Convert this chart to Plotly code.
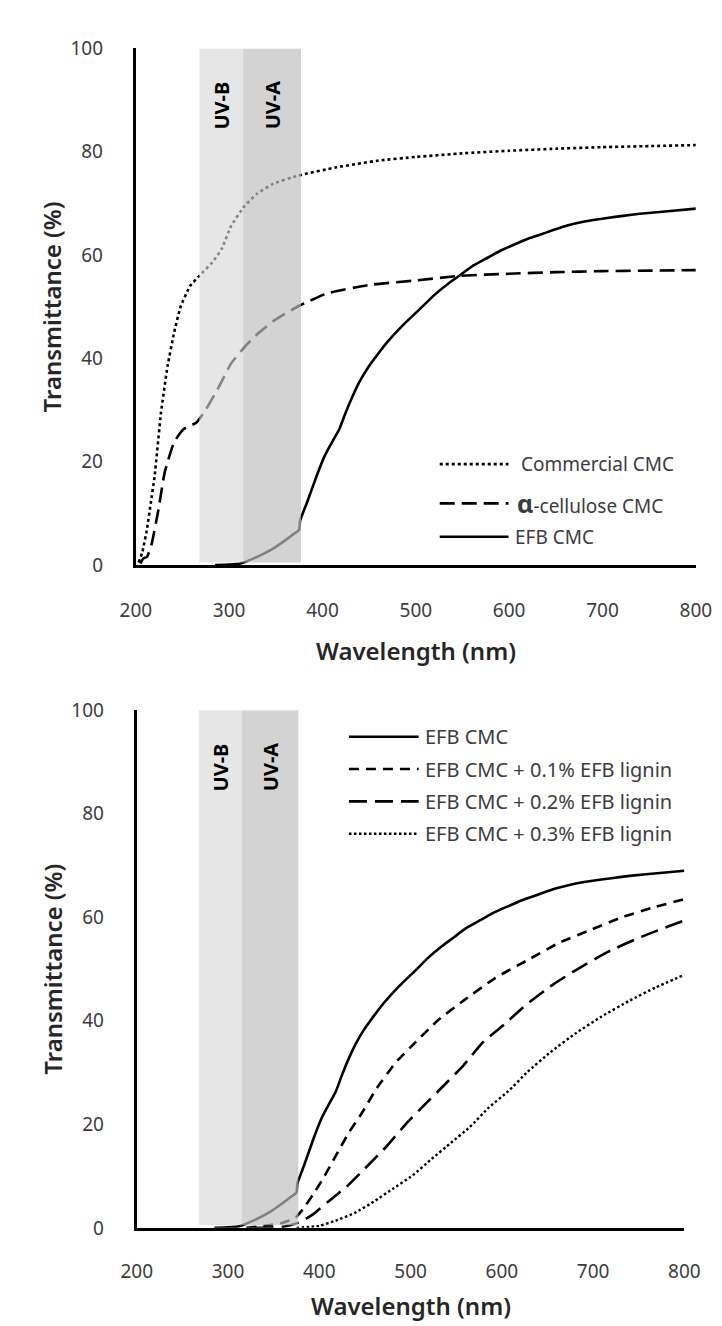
import plotly.graph_objects as go

# ---------------- data ----------------
# Top panel
wl_commercial = [203, 207, 212, 216, 220, 227, 234, 241, 248, 258, 268, 282, 292, 302, 316, 330, 347,
                 374, 415, 460, 500, 550, 600, 650, 700, 750, 800]
t_commercial = [0.5, 2.5, 7, 12, 17, 29.5, 38.5, 45, 50, 54, 56, 58.6, 61.2, 65.6, 69.4, 71.9, 73.8,
                75.4, 77, 78.3, 79, 79.7, 80.2, 80.6, 80.9, 81.1, 81.3]

wl_alpha = [205, 208, 212, 217, 224, 231, 241, 251, 265, 275, 289, 302, 316, 330, 347, 374, 405,
            449, 500, 548, 600, 650, 700, 750, 800]
t_alpha = [0.3, 1.3, 1.6, 4.1, 10.5, 18, 23.8, 26.3, 27.6, 30.1, 34.5, 39, 42.1, 44.7, 47.2, 50.1, 52.6,
           54.2, 55.1, 56.0, 56.4, 56.7, 56.9, 57.0, 57.1]

wl_efb = [285, 300, 312, 330, 347, 360, 369, 375, 376, 384, 394, 402, 408, 418, 425, 432, 440, 449, 460,
          470, 487, 504, 520, 535, 548, 560, 575, 590, 605, 622, 640, 656, 673, 690, 705, 722, 740, 770, 800]
t_efb = [0, 0.1, 0.3, 1.6, 3.2, 4.8, 6.0, 6.8, 8.6, 12.4, 17.4, 21.0, 23.1, 26.3, 29.6, 32.6, 35.6, 38.3,
         41.0, 43.3, 46.6, 49.5, 52.3, 54.5, 56.2, 57.8, 59.3, 60.8, 62.0, 63.3, 64.4, 65.4, 66.2, 66.8,
         67.2, 67.6, 68.0, 68.5, 69.0]

# Bottom panel
wl_l01 = [320, 340, 360, 374, 382, 393, 404, 418, 432, 446, 463, 484, 505, 530, 558, 593, 628, 663,
          698, 733, 768, 800]
t_l01 = [0, 0.4, 1.0, 2.0, 3.6, 6.4, 9.5, 13.9, 18.3, 22, 27, 32, 35.8, 40.1, 43.9, 48.3, 51.7, 55.1,
         57.6, 60.1, 62, 63.5]

wl_l02 = [330, 360, 379, 393, 410, 432, 453, 474, 495, 516, 537, 558, 579, 600, 628, 656, 684, 716,
          751, 800]
t_l02 = [0, 0.2, 1.1, 2.6, 5.1, 8.3, 12, 15.8, 20.1, 23.9, 27.6, 31.4, 35.8, 38.9, 43.3, 47, 50.1, 53.3,
         56.1, 59.4]

wl_l03 = [375, 400, 418, 439, 460, 481, 502, 523, 544, 565, 586, 607, 628, 653, 681, 709, 740, 768, 800]
t_l03 = [0, 0.4, 1.4, 2.9, 5.1, 7.6, 10.1, 13.3, 16.4, 19.5, 23.3, 26.4, 30.1, 33.9, 37.6, 40.8, 43.9,
         46.4, 48.9]

x_ticks = [200, 300, 400, 500, 600, 700, 800]
y_ticks = [0, 20, 40, 60, 80, 100]

uv_bands = [("UV-B", 268, 315), ("UV-A", 315, 377)]

top_names = ["Commercial CMC", "<b style='font-size:25px'>α</b>-cellulose CMC", "EFB CMC"]
bottom_names = ["EFB CMC", "EFB CMC + 0.1% EFB lignin", "EFB CMC + 0.2% EFB lignin",
                "EFB CMC + 0.3% EFB lignin"]

# ---------------- figure ----------------
W, H = 722, 1326
FONT = "Noto Sans"

# plot-area pixel boxes (left, right, top, bottom)
TOP = (117, 703, 28, 555)
BOT = (118, 691, 703, 1231)


def fx(p):
    return p / W


def fy(p):
    return 1 - p / H


fig = go.Figure()

top_styles = [dict(dash="3px,3px", width=2.6), dict(dash="15px,7px", width=2.6), dict(dash="solid", width=2.6)]
bot_styles = [dict(dash="solid", width=2.6), dict(dash="10px,7px", width=2.6),
              dict(dash="18px,8px", width=2.6), dict(dash="2.5px,2.5px", width=2.4)]

for (wl, t), st in zip([(wl_commercial, t_commercial), (wl_alpha, t_alpha), (wl_efb, t_efb)], top_styles):
    fig.add_trace(go.Scatter(x=wl, y=t, mode="lines", xaxis="x", yaxis="y", line_shape="spline",
                             line=dict(color="black", smoothing=0.4, **st), showlegend=False, hoverinfo="skip"))

for (wl, t), st in zip([(wl_efb, t_efb), (wl_l01, t_l01), (wl_l02, t_l02), (wl_l03, t_l03)], bot_styles):
    fig.add_trace(go.Scatter(x=wl, y=t, mode="lines", xaxis="x2", yaxis="y2", line_shape="spline",
                             line=dict(color="black", smoothing=0.4, **st), showlegend=False, hoverinfo="skip"))

axis_common = dict(showline=True, linecolor="black", linewidth=3, showgrid=False, zeroline=False,
                   ticks="", tickfont=dict(family=FONT, size=19, color="#3c3c3c"), fixedrange=True)

fig.update_layout(
    width=W, height=H, margin=dict(l=0, r=0, t=0, b=0),
    paper_bgcolor="white", plot_bgcolor="white", showlegend=False,
    xaxis=dict(domain=[fx(TOP[0]), fx(TOP[1])], range=[200, 800], anchor="y", tickvals=x_ticks,
               ticklabelstandoff=26, **axis_common),
    yaxis=dict(domain=[fy(TOP[3]), fy(TOP[2])], range=[0, 100], anchor="x", tickvals=y_ticks,
               ticklabelstandoff=26, **axis_common),
    xaxis2=dict(domain=[fx(BOT[0]), fx(BOT[1])], range=[200, 800], anchor="y2", tickvals=x_ticks,
                ticklabelstandoff=24, **axis_common),
    yaxis2=dict(domain=[fy(BOT[3]), fy(BOT[2])], range=[0, 100], anchor="x2", tickvals=y_ticks,
                ticklabelstandoff=26, **axis_common),
)

band_fill = {"UV-B": "rgba(214,214,214,0.62)", "UV-A": "rgba(190,190,190,0.68)"}
shapes = []
annotations = []
for xr, yr in [("x", "y"), ("x2", "y2")]:
    for name, a, b in uv_bands:
        shapes.append(dict(type="rect", xref=xr, yref=yr, x0=a, x1=b, y0=0.5, y1=100,
                           fillcolor=band_fill[name], line=dict(width=0), layer="above"))
        annotations.append(dict(xref=xr, yref=yr, x=(a + b) / 2, y=89, text="<b>%s</b>" % name,
                                textangle=-90, showarrow=False, xanchor="center", yanchor="middle",
                                font=dict(family=FONT, size=20, color="black")))

# axis titles
title_font = dict(family=FONT, size=24, color="#262626", weight=600)
for box in [TOP, BOT]:
    annotations.append(dict(xref="paper", yref="paper", x=fx(29), y=fy((box[2] + box[3]) / 2),
                            text="Transmittance (%)", textangle=-90, showarrow=False,
                            xanchor="center", yanchor="middle", font=title_font))
for box, yc in [(TOP, 642), (BOT, 1310)]:
    annotations.append(dict(xref="paper", yref="paper", x=fx((box[0] + box[1]) / 2), y=fy(yc),
                            text="Wavelength (nm)", showarrow=False, xanchor="center", yanchor="middle",
                            font=title_font))

# legends (drawn manually to reproduce the long line samples)
for (name, st), yrow, xt in zip(zip(top_names, top_styles), [452, 492, 526], [518, 514, 512]):
    shapes.append(dict(type="line", xref="paper", yref="paper", x0=fx(435), x1=fx(507), y0=fy(yrow),
                       y1=fy(yrow), line=dict(color="black", **st)))
    annotations.append(dict(xref="paper", yref="paper", x=fx(xt), y=fy(yrow), text=name, xanchor="left",
                            yanchor="middle", showarrow=False,
                            font=dict(family=FONT, size=19, color="#3c3c3c")))
for (name, st), yrow in zip(zip(bottom_names, bot_styles), [730, 763, 796, 829]):
    shapes.append(dict(type="line", xref="paper", yref="paper", x0=fx(340), x1=fx(413), y0=fy(yrow),
                       y1=fy(yrow), line=dict(color="black", **st)))
    annotations.append(dict(xref="paper", yref="paper", x=fx(418), y=fy(yrow), text=name, xanchor="left",
                            yanchor="middle", showarrow=False,
                            font=dict(family=FONT, size=20, color="#3c3c3c")))

fig.update_layout(shapes=shapes, annotations=annotations)
fig.write_html("out.html")
